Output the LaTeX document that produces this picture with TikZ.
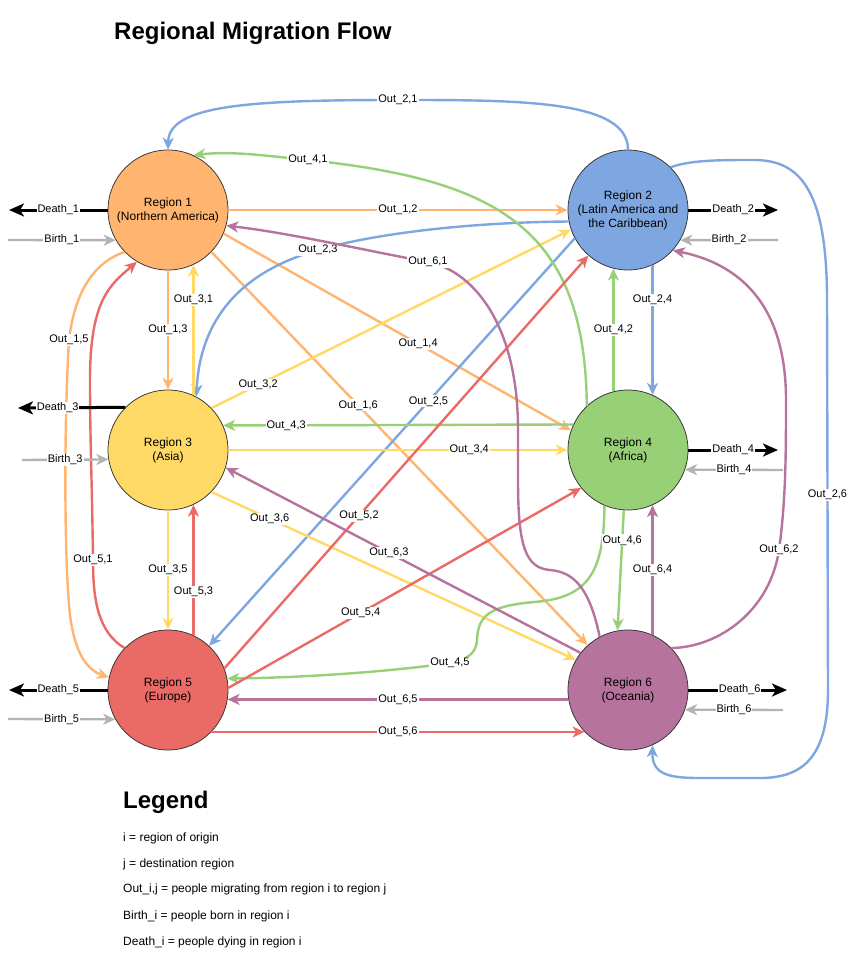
\documentclass[tikz,border=0pt]{standalone}
\usepackage{fontspec}
\setmainfont{Liberation Sans}
\usetikzlibrary{arrows.meta}
\definecolor{regA}{HTML}{FFB570}
\definecolor{regB}{HTML}{7EA6E0}
\definecolor{regC}{HTML}{FFD966}
\definecolor{regD}{HTML}{97D077}
\definecolor{regE}{HTML}{EA6B66}
\definecolor{regF}{HTML}{B5739D}
\definecolor{birthgrey}{HTML}{B3B3B3}
\begin{document}
\begin{tikzpicture}[x=1pt,y=1pt]
      \tikzstyle{every node}+=[inner sep=0pt]
      \tikzstyle{region}=[circle, draw=black!80, line width=0.75pt, minimum size=120pt, align=center, font=\fontsize{12}{14}\selectfont]
      \tikzstyle{lbl}=[fill=white, text=black, inner sep=1pt, font=\fontsize{11}{13}\selectfont]
      \tikzstyle{flow}=[line width=2.4pt, -{Stealth[length=12pt,width=11pt,inset=3.5pt]}]
      \tikzstyle{death}=[line width=3pt, black, -{Stealth[length=15pt,width=13pt,inset=4pt]}]
      \tikzstyle{birth}=[line width=2.4pt, birthgrey, -{Stealth[length=12pt,width=11pt,inset=3.5pt]}]
      \useasboundingbox (0,0) rectangle (848,-961);
      \node [anchor=base west, font=\fontsize{24}{28}\selectfont\bfseries] (title) at (114,-39) {Regional Migration Flow};
      \node [region, fill=regA] (r1) at (168,-210) {Region 1\\(Northern America)};
      \node [region, fill=regB] (r2) at (628,-210) {Region 2\\(Latin America and\\the Caribbean)};
      \node [region, fill=regC] (r3) at (168,-450) {Region 3\\(Asia)};
      \node [region, fill=regD] (r4) at (628,-450) {Region 4\\(Africa)};
      \node [region, fill=regE] (r5) at (168,-690) {Region 5\\(Europe)};
      \node [region, fill=regF] (r6) at (628,-690) {Region 6\\(Oceania)};
      \coordinate (d1) at (9,-210);
      \coordinate (b1) at (8,-240);
      \coordinate (d2) at (778,-210);
      \coordinate (b2) at (778,-240);
      \coordinate (d3) at (18,-408);
      \coordinate (b3) at (22,-460);
      \coordinate (d4) at (778,-450);
      \coordinate (b4) at (783,-470);
      \coordinate (d5) at (9,-690);
      \coordinate (b5) at (8,-719);
      \coordinate (d6) at (787,-690);
      \coordinate (b6) at (783,-710);
      \draw [flow, regA] (r1.east) -- node [lbl] {Out\_1,2} (r2.west);
      \draw [flow, regA] (r1.south) -- node [lbl] {Out\_1,3} (r3.north);
      \draw [flow, regA] (r1.-23) -- node [lbl, pos=0.56] {Out\_1,4} (r4.161);
      \draw [flow, regA] (r1.-44) -- node [lbl, pos=0.39] {Out\_1,6} (r6.132);
      \draw [flow, regA] (r1.224) .. controls (95,-262) and (75,-290) .. (69,-340) node [lbl] {Out\_1,5} .. controls (64,-420) and (64,-560) .. (70,-615) .. controls (75,-655) and (88,-670) .. (r5.168);
      \draw [flow, regB] (r2.north) .. controls (628,-100) and (520,-100) .. (398,-100) node [lbl] {Out\_2,1} .. controls (250,-100) and (169,-105) .. (r1.north);
      \draw [flow, regB] (r2.191) .. controls (480,-222) and (380,-232) .. (318,-250) node [lbl] {Out\_2,3} .. controls (240,-272) and (200,-320) .. (r3.62);
      \draw [flow, regB] (r2.-66.4) -- node [lbl, pos=0.27] {Out\_2,4} (r4.66.4);
      \draw [flow, regB] (r2.208) -- node [lbl, pos=0.4] {Out\_2,5} (r5.47);
      \draw [flow, regB] (r2.45.7) .. controls (690,-160) and (720,-160) .. (754,-160) .. controls (800,-160) and (827,-190) .. (827,-300) -- node [lbl] {Out\_2,6} (828,-690) .. controls (828,-760) and (800,-778) .. (760,-778) -- (700,-778) .. controls (670,-778) and (652,-775) .. (r6.-66.4);
      \draw [flow, regC] (r3.65.4) -- node [lbl, pos=0.73] {Out\_3,1} (r1.-65.4);
      \draw [flow, regC] (r3.44) -- node [lbl, pos=0.13] {Out\_3,2} (r2.199);
      \draw [flow, regC] (r3.east) -- node [lbl, pos=0.71] {Out\_3,4} (r4.west);
      \draw [flow, regC] (r3.south) -- node [lbl] {Out\_3,5} (r5.north);
      \draw [flow, regC] (r3.-44) -- node [lbl, pos=0.16] {Out\_3,6} (r6.150);
      \draw [flow, regD] (r4.133) .. controls (585,-230) and (500,-180) .. (308,-160) node [lbl] {Out\_4,1} .. controls (260,-155) and (230,-151) .. (r1.65);
      \draw [flow, regD] (r4.104.5) -- node [lbl] {Out\_4,2} (r2.-104.5);
      \draw [flow, regD] (r4.155.4) -- node [lbl, pos=0.82] {Out\_4,3} (r3.24.6);
      \draw [flow, regD] (r4.247.5) .. controls (604,-570) and (590,-598) .. (534,-602) .. controls (490,-606) and (478,-615) .. (477,-640) .. controls (476,-655) and (465,-660) .. (450,-663) node [lbl] {Out\_4,5} .. controls (380,-673) and (290,-678) .. (r5.11);
      \draw [flow, regD] (r4.-94) -- node [lbl, pos=0.25] {Out\_4,6} (r6.100.5);
      \draw [flow, regE] (r5.136) .. controls (98,-632) and (93,-600) .. (93,-560) node [lbl] {Out\_5,1} .. controls (92,-480) and (90,-440) .. (90,-380) .. controls (90,-300) and (110,-285) .. (r1.239);
      \draw [flow, regE] (r5.21) -- node [lbl, pos=0.37] {Out\_5,2} (r2.229.5);
      \draw [flow, regE] (r5.65.4) -- node [lbl, pos=0.33] {Out\_5,3} (r3.-65.4);
      \draw [flow, regE] (r5.2) -- node [lbl, pos=0.375] {Out\_5,4} (r4.219.5);
      \draw [flow, regE] (r5.-44) -- node [lbl] {Out\_5,6} (r6.224);
      \draw [flow, regF] (r6.118.7) .. controls (590,-590) and (575,-572) .. (550,-570) .. controls (525,-568) and (518,-545) .. (518,-480) -- (518,-430) .. controls (518,-320) and (470,-270) .. (428,-262) node [lbl] {Out\_6,1} .. controls (368,-251) and (290,-233) .. (r1.-15);
      \draw [flow, regF] (r6.44) .. controls (720,-647) and (770,-610) .. (779,-550) node [lbl] {Out\_6,2} .. controls (786,-500) and (786,-450) .. (786,-400) .. controls (786,-300) and (735,-263) .. (r2.-42);
      \draw [flow, regF] (r6.142) -- node [lbl, pos=0.54] {Out\_6,3} (r3.-17);
      \draw [flow, regF] (r6.66.4) -- node [lbl] {Out\_6,4} (r4.-66.4);
      \draw [flow, regF] (r6.189.5) -- node [lbl] {Out\_6,5} (r5.-9.5);
      \draw [death] (r1.west) -- node [lbl] {Death\_1} (d1);
      \draw [birth] (b1) -- node [lbl] {Birth\_1} (r1.210);
      \draw [death] (r2.east) -- node [lbl] {Death\_2} (d2);
      \draw [birth] (b2) -- node [lbl] {Birth\_2} (r2.-30);
      \draw [death] (r3.135.5) -- node [lbl, pos=0.63] {Death\_3} (d3);
      \draw [birth] (b3) -- node [lbl] {Birth\_3} (r3.189.6);
      \draw [death] (r4.east) -- node [lbl] {Death\_4} (d4);
      \draw [birth] (b4) -- node [lbl] {Birth\_4} (r4.-19.5);
      \draw [death] (r5.west) -- node [lbl] {Death\_5} (d5);
      \draw [birth] (b5) -- node [lbl] {Birth\_5} (r5.209);
      \draw [death] (r6.east) -- node [lbl, pos=0.52] {Death\_6} (d6);
      \draw [birth] (b6) -- node [lbl] {Birth\_6} (r6.-19.5);
      \node [anchor=base west, font=\fontsize{24}{28}\selectfont\bfseries] (legend) at (123,-808) {Legend};
      \node [anchor=base west, font=\fontsize{12}{14}\selectfont] (key1) at (123,-841) {i = region of origin};
      \node [anchor=base west, font=\fontsize{12}{14}\selectfont] (key2) at (123,-867) {j = destination region};
      \node [anchor=base west, font=\fontsize{12}{14}\selectfont] (key3) at (123,-892) {Out\_i,j = people migrating from region i to region j};
      \node [anchor=base west, font=\fontsize{12}{14}\selectfont] (key4) at (123,-919) {Birth\_i = people born in region i};
      \node [anchor=base west, font=\fontsize{12}{14}\selectfont] (key5) at (123,-945) {Death\_i = people dying in region i};
    \end{tikzpicture}
\end{document}
